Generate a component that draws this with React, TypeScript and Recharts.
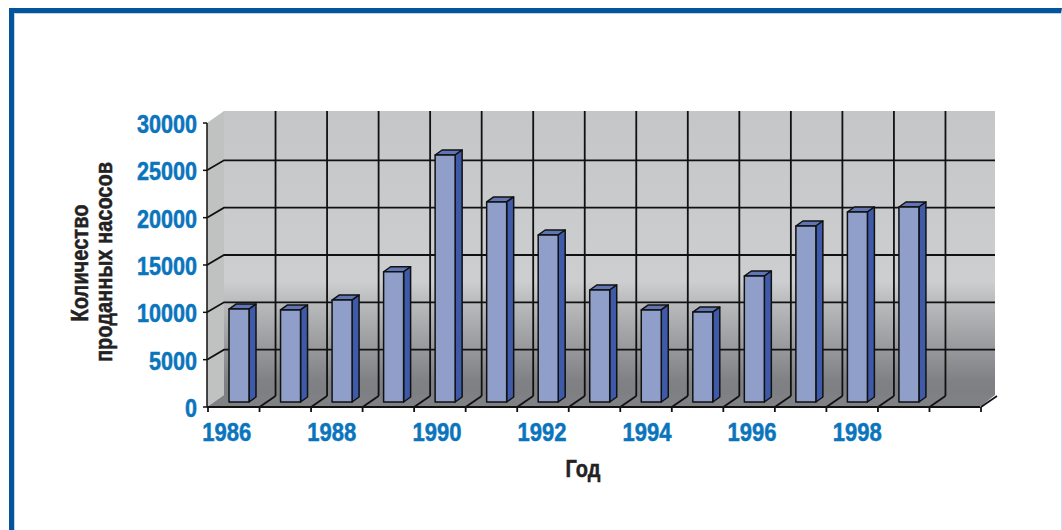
import { BarChart, Bar, XAxis, YAxis, CartesianGrid } from 'recharts'

const years = ['1986', '1987', '1988', '1989', '1990', '1991', '1992', '1993', '1994', '1995', '1996', '1997', '1998', '1999', '2000']
const pumpsSold = [9820, 9720, 10770, 13760, 26090, 21130, 17640, 11830, 9720, 9500, 13310, 18590, 20070, 20600, null]
const yearLabels = ['1986', '1988', '1990', '1992', '1994', '1996', '1998']
const pumpTicks = [0, 5000, 10000, 15000, 20000, 25000, 30000]

const data = years.map((year, i) => ({ year, pumps: pumpsSold[i] }))

const W = 1062
const H = 530
const LEFT = 207
const TOP = 123
const RIGHT = 980
const BOTTOM = 407
// how far the back wall sits behind the front plane
const DX = 17
const DY = 12
const GRID_DY = 10
const FONT = '"Liberation Sans", Arial, sans-serif'
const BLUE = '#0a75bd'
const INK = '#111'

// the installed fonts have no condensed bold, so squeeze the glyphs to the printed width
function NarrowText({ width, size, fill, children, ...rest }: any) {
  return (
    <text
      {...rest}
      textLength={width}
      lengthAdjust="spacingAndGlyphs"
      fontFamily={FONT}
      fontWeight={700}
      fontSize={size}
      fill={fill}
      stroke={fill}
      strokeWidth={0.5}
    >
      {children}
    </text>
  )
}

function Bar3D({ x, y, width, height, value }: any) {
  if (value == null) return null
  const fx = x + 6
  const fy = y - 5
  const d = 7
  const u = 5
  const top = `${fx},${fy} ${fx + d},${fy - u} ${fx + width + d},${fy - u} ${fx + width},${fy}`
  const side = `${fx + width},${fy} ${fx + width + d},${fy - u} ${fx + width + d},${fy + height - u} ${fx + width},${fy + height}`
  return (
    <g stroke={INK} strokeWidth={1.5} strokeLinejoin="round">
      <polygon points={top} fill="#5f75b4" />
      <polygon points={side} fill="#3f5aa8" />
      <rect x={fx} y={fy} width={width} height={height} fill="#8f9fc9" />
    </g>
  )
}

function Backdrop() {
  return (
    <g>
      <polygon points={`${LEFT},${TOP} ${LEFT + DX},${TOP - DY} ${LEFT + DX},${BOTTOM - DY} ${LEFT},${BOTTOM}`} fill="#c0c1c1" />
      <rect x={LEFT + DX} y={TOP - DY} width={RIGHT - LEFT - 2} height={BOTTOM - TOP} fill="url(#wall)" />
      <polygon points={`${LEFT},${BOTTOM} ${LEFT + DX},${BOTTOM - DY} ${RIGHT + DX - 2},${BOTTOM - DY} ${RIGHT},${BOTTOM}`} fill="#808184" />
    </g>
  )
}

function HLine({ x1, x2, y1 }: any) {
  // first and last ticks have no line on the wall
  if (y1 <= TOP + 1 || y1 >= BOTTOM - 1) return <g />
  return <polyline points={`${x1},${y1} ${x1 + DX},${y1 - GRID_DY} ${x2 + DX - 2},${y1 - GRID_DY}`} stroke={INK} strokeWidth={1.8} fill="none" />
}

function VLine({ x1 }: any) {
  const atLeft = x1 <= LEFT + 1
  const atRight = x1 >= RIGHT - 1
  return (
    <g stroke={INK} strokeWidth={1.8} fill="none">
      <line x1={x1 + 1} y1={BOTTOM} x2={x1 + 1} y2={BOTTOM + 5} />
      {!atLeft && <line x1={x1 + 1} y1={BOTTOM} x2={x1 + DX} y2={BOTTOM - DY + 1} />}
      {!atLeft && !atRight && <line x1={x1 + DX} y1={BOTTOM - DY + 1} x2={x1 + DX} y2={TOP - DY} />}
    </g>
  )
}

function YearTick({ x, y, payload }: any) {
  // printed labels spread slightly wider than the slots
  const nudge = -6 + (Number(payload.value) - 1986)
  return (
    <NarrowText x={x + nudge} y={y + 26} textAnchor="middle" size={25} width={49} fill={BLUE}>
      {payload.value}
    </NarrowText>
  )
}

function PumpTick({ x, y, payload }: any) {
  const label = String(payload.value)
  return (
    <NarrowText x={x} y={y + 10} textAnchor="end" size={25} width={label.length * 12} fill={BLUE}>
      {label}
    </NarrowText>
  )
}

export default function App() {
  return (
    <div style={{ position: 'absolute', left: 0, top: 0, width: W, height: H, overflow: 'hidden', background: '#fff' }}>
      <div
        style={{
          position: 'absolute', left: 9, top: 8, right: 0, bottom: -10, boxSizing: 'border-box',
          borderTop: '5px solid #03549c', borderLeft: '5px solid #03549c', borderRight: '1px solid #d3dfee',
          boxShadow: 'inset 1px 1px 0 #bcd4ea',
        }}
      />
      <div style={{ position: 'absolute', left: 0, top: 0 }}>
        <BarChart width={W} height={H} data={data} barSize={20} margin={{ top: TOP, right: W - RIGHT, bottom: 0, left: 0 }}>
          <defs>
            <linearGradient id="wall" x1="0" y1="0" x2="0" y2="1">
              <stop offset="0" stopColor="#c5c6c8" />
              <stop offset="0.6" stopColor="#cdced0" />
              <stop offset="0.66" stopColor="#bdbec0" />
              <stop offset="0.95" stopColor="#808184" />
              <stop offset="1" stopColor="#7e7f82" />
            </linearGradient>
          </defs>
          <CartesianGrid vertical={false} horizontal={(p: any) => (p.index === 0 ? <Backdrop /> : <g />)} />
          <CartesianGrid
            horizontal={(p: any) => <HLine {...p} />}
            vertical={(p: any) => <VLine {...p} />}
            verticalCoordinatesGenerator={({ offset }: any) =>
              [...years, ''].map((_, i) => offset.left + (i * offset.width) / years.length)
            }
          />
          <XAxis
            dataKey="year"
            ticks={yearLabels}
            interval={0}
            height={H - BOTTOM}
            tick={<YearTick />}
            tickLine={false}
            axisLine={{ stroke: INK, strokeWidth: 2 }}
          />
          <YAxis
            width={LEFT}
            domain={[0, 30000]}
            ticks={pumpTicks}
            interval={0}
            tickSize={4}
            tickMargin={6}
            tick={<PumpTick />}
            tickLine={{ stroke: INK, strokeWidth: 1.5 }}
            axisLine={{ stroke: INK, strokeWidth: 1.5 }}
          />
          <Bar dataKey="pumps" shape={<Bar3D />} isAnimationActive={false} />
          <NarrowText transform="translate(88,263) rotate(-90)" textAnchor="middle" size={23} width={117} fill="#222">
            Количество
          </NarrowText>
          <NarrowText transform="translate(112,262) rotate(-90)" textAnchor="middle" size={23} width={200} fill="#222">
            проданных насосов
          </NarrowText>
          <NarrowText x={583} y={477} textAnchor="middle" size={24} width={35} fill="#222">
            Год
          </NarrowText>
        </BarChart>
      </div>
    </div>
  )
}
